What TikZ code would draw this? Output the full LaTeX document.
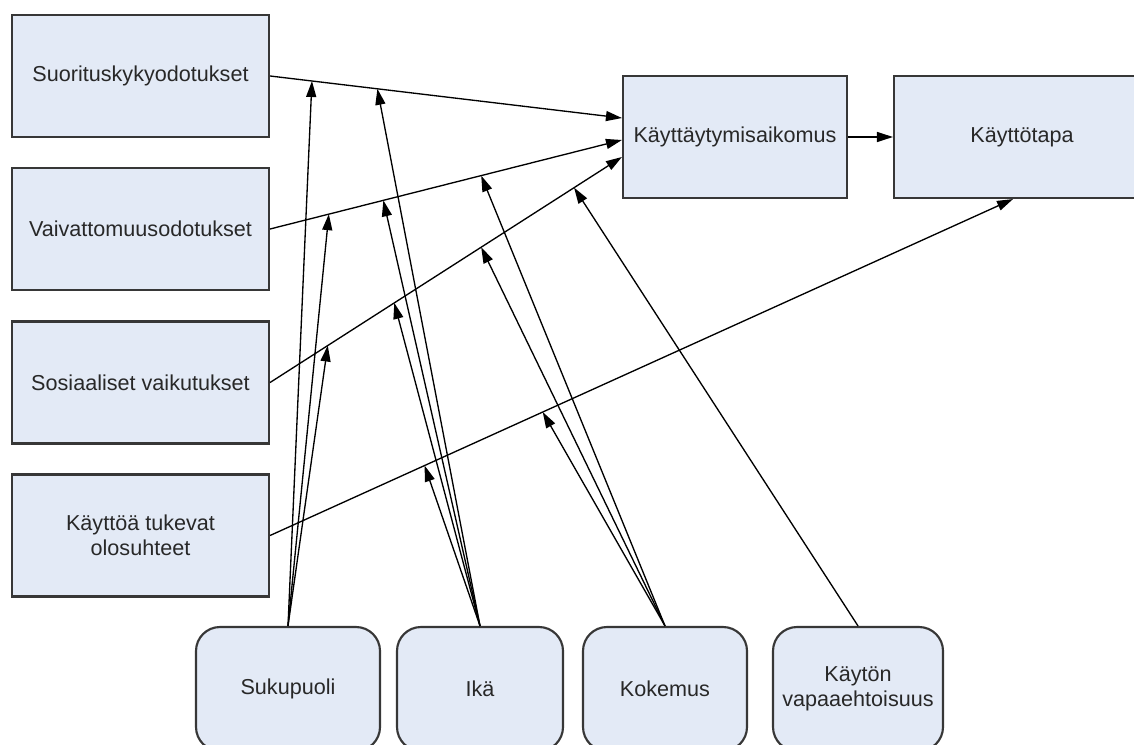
\documentclass[tikz,border=0pt]{standalone}
\usepackage{fontspec}
\setmainfont{Liberation Sans}
\usetikzlibrary{arrows.meta,calc}

\definecolor{boxfill}{RGB}{227,234,246}
\definecolor{boxline}{RGB}{55,55,55}
\definecolor{boxtext}{RGB}{40,40,40}

\tikzset{every picture/.style={line width=0.75pt}}
\tikzset{
  factor/.style={draw=boxline, fill=boxfill, line width=1.6pt, text=boxtext, align=center,
    inner sep=0.75pt, font=\fontsize{16.2}{18.75}\selectfont},
  sidebox/.style={factor, minimum width=192.75pt, minimum height=91.5pt},
  modbox/.style={factor, rounded corners=18pt, minimum height=93pt},
  link/.style={line width=1pt, -{Triangle[length=12pt,width=7.5pt]}},
}

\begin{document}
\begin{tikzpicture}[x=0.75pt,y=0.75pt,yscale=-1,xscale=1]
\useasboundingbox (0,0) rectangle (1134,745);

%Shape: Rectangle [id:s1]
\node [sidebox] (s1) at (140.5,76) {Suorituskykyodotukset};
%Shape: Rectangle [id:s2]
\node [sidebox] (s2) at (140.5,229) {Vaivattomuusodotukset};
%Shape: Rectangle [id:s3]
\node [sidebox] (s3) at (140.5,382.5) {Sosiaaliset vaikutukset};
%Shape: Rectangle [id:s4]
\node [sidebox] (s4) at (140.5,535.5) {Käyttöä tukevat\\olosuhteet};
%Shape: Rectangle [id:ki]
\node [factor, minimum width=168pt, minimum height=91.5pt] (ki) at (735,137) {Käyttäytymisaikomus};
%Shape: Rectangle [id:kt]
\node [factor, minimum width=192pt, minimum height=91.5pt] (kt) at (1022,137) {Käyttötapa};

%Shape: Rounded Rect [id:suku]
\node [modbox, minimum width=138pt] (suku) at (288,689) {Sukupuoli};
%Shape: Rounded Rect [id:ika]
\node [modbox, minimum width=124.5pt] (ika) at (480,689) {Ikä};
%Shape: Rounded Rect [id:kok]
\node [modbox, minimum width=123pt] (kok) at (665,689) {Kokemus};
%Shape: Rounded Rect [id:vap]
\node [modbox, minimum width=127.5pt] (vap) at (858,689) {Käytön\\vapaaehtoisuus};

%Straight Lines [id:l1]
\draw [link] (s1.east) -- ($(ki.west)+(0,-19)$) coordinate[pos=0.119] (m11) coordinate[pos=0.305] (m12);
%Straight Lines [id:l2]
\draw [link] (s2.east) -- ($(ki.west)+(0,3)$) coordinate[pos=0.167] (m21) coordinate[pos=0.322] (m22) coordinate[pos=0.60] (m23);
%Straight Lines [id:l3]
\draw [link] (s3.east) -- ($(ki.west)+(0,20)$) coordinate[pos=0.164] (m31) coordinate[pos=0.353] (m32) coordinate[pos=0.60] (m33) coordinate[pos=0.864] (m34);
%Straight Lines [id:l4]
\draw [link] (s4.east) -- ($(kt.south)+(-9,0)$) coordinate[pos=0.208] (m42) coordinate[pos=0.367] (m43);
%Straight Lines [id:l5]
\draw [link] (ki.east) -- (kt.west);

%Straight Lines [id:sukupuoli]
\draw [link] (suku.north) -- (m11);
\draw [link] (suku.north) -- (m21);
\draw [link] (suku.north) -- (m31);
%Straight Lines [id:ika]
\draw [link] (ika.north) -- (m12);
\draw [link] (ika.north) -- (m22);
\draw [link] (ika.north) -- (m32);
\draw [link] (ika.north) -- (m42);
%Straight Lines [id:kokemus]
\draw [link] (kok.north) -- (m23);
\draw [link] (kok.north) -- (m33);
\draw [link] (kok.north) -- (m43);
%Straight Lines [id:vapaaehtoisuus]
\draw [link] (vap.north) -- (m34);

\end{tikzpicture}
\end{document}
